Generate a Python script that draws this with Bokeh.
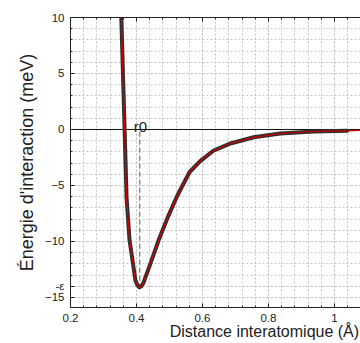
from bokeh.plotting import figure
from bokeh.models import LinearAxis, FixedTicker, Span, Label, Range1d
from bokeh.embed import file_html
from bokeh.resources import INLINE

# ---- data ----
dist_meas = [0.3535, 0.354, 0.364, 0.370, 0.379, 0.391, 0.397, 0.403, 0.409, 0.415,
             0.421, 0.442, 0.467, 0.494, 0.524, 0.561, 0.594, 0.633, 0.685, 0.755,
             0.836, 0.936, 1.039]
energy_meas = [10.6, 10.0, 0.0, -6.1, -9.9, -12.3, -13.5, -13.9, -14.1, -14.0,
               -13.7, -12.0, -9.9, -7.9, -5.9, -3.8, -2.8, -1.9, -1.25, -0.7,
               -0.36, -0.18, -0.12]
dist_fit = dist_meas + [1.08]
energy_fit = energy_meas + [-0.08]

r0 = 0.41
eps_depth = -14.0

x_ticks = [0.2, 0.4, 0.6, 0.8, 1]
x_tick_labels = ["0.2", "0.4", "0.6", "0.8", "1"]
y_ticks = [-15, -14, -10, -5, 0, 5, 10]
y_tick_labels = ["\u221215", "-\u03b5", "\u221210", "\u22125", "0", "5", "10"]

x_title = "Distance interatomique (\u00c5)"
y_title = "\u00c9nergie d'interaction (meV)"

FONT = "Liberation Sans"
TXT = "#222222"

p = figure(width=360, height=343, output_backend="svg", toolbar_location=None,
           x_range=Range1d(0.2, 1.079), y_range=Range1d(-15.9, 10.0),
           min_border_left=70, min_border_right=0, min_border_top=17,
           min_border_bottom=36)
p.outline_line_color = None
p.background_fill_color = "white"
p.border_fill_color = "white"

x_minor = [round(0.2 + 0.04 * i, 2) for i in range(23)]
y_minor = list(range(-16, 11))
xt = FixedTicker(ticks=x_ticks, minor_ticks=x_minor)
yt = FixedTicker(ticks=y_ticks, minor_ticks=y_minor)

def style_axis(ax):
    ax.axis_line_color = TXT
    ax.axis_line_width = 1
    ax.major_tick_line_color = TXT
    ax.minor_tick_line_color = TXT
    ax.major_tick_in = 4
    ax.major_tick_out = 0
    ax.minor_tick_in = 2
    ax.minor_tick_out = 0
    ax.major_label_text_font = FONT
    ax.major_label_text_color = TXT
    ax.major_label_text_font_size = "11.5px"
    ax.axis_label_text_font = FONT
    ax.axis_label_text_color = TXT
    ax.axis_label_text_font_size = "18px"
    ax.axis_label_text_font_style = "normal"

xa = p.xaxis[0]
xa.ticker = xt
xa.major_label_overrides = {k: v for k, v in zip(x_ticks, x_tick_labels)}
style_axis(xa)
xa.major_label_standoff = 6
# leading no-break spaces push the centred title towards the right end
xa.axis_label = "\u00a0" * 22 + x_title
xa.axis_label_text_font_size = "16px"
xa.axis_label_standoff = -2

ya = p.yaxis[0]
ya.ticker = yt
ya.major_label_overrides = {k: v for k, v in zip(y_ticks, y_tick_labels)}
style_axis(ya)
ya.major_label_standoff = 6
ya.axis_label = y_title
ya.axis_label_standoff = 5

top = LinearAxis(ticker=xt)
style_axis(top)
top.major_label_overrides = {k: "" for k in x_ticks}
top.major_label_standoff = 0
p.add_layout(top, "above")

for g, t in ((p.xgrid[0], xt), (p.ygrid[0], yt)):
    g.ticker = t
    g.grid_line_color = "#c4c4c4"
    g.grid_line_dash = "2 2"
    g.grid_line_width = 1
    g.minor_grid_line_color = "#c4c4c4"
    g.minor_grid_line_dash = "2 2"
    g.minor_grid_line_width = 1

p.add_layout(Span(location=0, dimension="width", line_color="#111111",
                  line_width=1, level="underlay"))

p.segment(x0=[r0], y0=[-0.2], x1=[r0], y1=[eps_depth], line_color="#555555",
          line_width=1, line_dash="5 3")

p.line(dist_meas, energy_meas, line_color="#2e2e2e", line_width=4,
       line_join="round", line_cap="round")
p.line(dist_fit, energy_fit, line_color="#d40000", line_width=1.2)

p.add_layout(Label(x=0.392, y=0.3, text="r0", text_font=FONT,
                   text_font_size="15px", text_color=TXT,
                   text_baseline="alphabetic", text_align="left"))

open("out.html", "w").write(file_html(p, INLINE))
